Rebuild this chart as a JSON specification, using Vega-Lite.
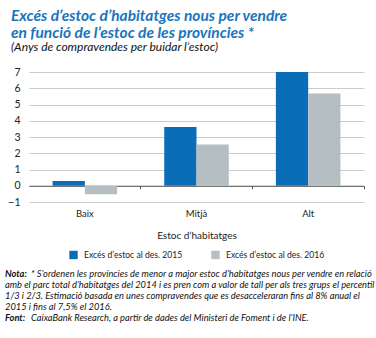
{
  "$schema": "https://vega.github.io/schema/vega-lite/v6.json",
  "padding": {"left": 5, "top": 8, "right": 2, "bottom": 2},
  "background": "white",
  "title": {
    "text": ["Excés d’estoc d’habitatges nous per vendre", "en funció de l’estoc de les províncies *"],
    "subtitle": "(Anys de compravendes per buidar l’estoc)",
    "anchor": "start",
    "frame": "group",
    "dx": -18,
    "font": "Lato",
    "fontSize": 15.5,
    "fontStyle": "italic",
    "fontWeight": "bold",
    "color": "#1a75bc",
    "lineHeight": 17,
    "subtitleFont": "Lato",
    "subtitleFontSize": 12,
    "subtitleFontStyle": "italic",
    "subtitleColor": "#111111",
    "subtitlePadding": 1,
    "offset": 14
  },
  "datasets": {
    "bars": [
      {"cat": "Baix", "serie": "Excés d’estoc al des. 2015", "value": 0.3},
      {"cat": "Baix", "serie": "Excés d’estoc al des. 2016", "value": -0.53},
      {"cat": "Mitjà", "serie": "Excés d’estoc al des. 2015", "value": 3.62},
      {"cat": "Mitjà", "serie": "Excés d’estoc al des. 2016", "value": 2.54},
      {"cat": "Alt", "serie": "Excés d’estoc al des. 2015", "value": 7.0},
      {"cat": "Alt", "serie": "Excés d’estoc al des. 2016", "value": 5.67}
    ],
    "notes": [
      {"line": 1, "kind": "bold", "text": "Nota:"},
      {"line": 1, "kind": "rest", "text": "* S’ordenen les províncies de menor a major estoc d’habitatges nous per vendre en relació"},
      {"line": 2, "kind": "plain", "text": "amb el parc total d’habitatges del 2014 i es pren com a valor de tall per als tres grups el percentil"},
      {"line": 3, "kind": "plain", "text": "1/3 i 2/3. Estimació basada en unes compravendes que es desacceleraran  fins al 8% anual el"},
      {"line": 4, "kind": "plain", "text": "2015 i fins al 7,5% el 2016."},
      {"line": 5, "kind": "bold", "text": "Font:"},
      {"line": 5, "kind": "rest", "text": "CaixaBank Research, a partir de dades del Ministeri de Foment i de l’INE."}
    ]
  },
  "bounds": "flush",
  "spacing": 66,
  "resolve": {"legend": {"color": "independent"}},
  "vconcat": [
    {
      "width": 335,
      "height": 130,
      "data": {"name": "bars"},
      "mark": {"type": "bar"},
      "encoding": {
        "x": {
          "field": "cat",
          "type": "nominal",
          "sort": ["Baix", "Mitjà", "Alt"],
          "scale": {"paddingInner": 0, "paddingOuter": 0},
          "axis": {
            "title": "Estoc d’habitatges",
            "offset": -16.25,
            "labelAngle": 0,
            "bandPosition": 1,
            "ticks": true,
            "tickSize": 3,
            "tickColor": "#555555",
            "domainColor": "#555555",
            "domainWidth": 1,
            "labelPadding": 20,
            "labelFont": "Lato",
            "labelFontSize": 9.5,
            "labelColor": "#222222",
            "titleFont": "Lato",
            "titleFontSize": 10,
            "titleFontWeight": "normal",
            "titleColor": "#222222",
            "titlePadding": 12,
            "grid": false
          }
        },
        "xOffset": {
          "field": "serie",
          "type": "nominal",
          "scale": {"paddingInner": 0, "paddingOuter": 0.73}
        },
        "y": {
          "field": "value",
          "type": "quantitative",
          "scale": {"domain": [-1, 7], "nice": false},
          "axis": {
            "title": null,
            "values": [-1, 0, 1, 2, 3, 4, 5, 6, 7],
            "domain": false,
            "ticks": false,
            "grid": true,
            "gridColor": "#cccccc",
            "gridWidth": 1,
            "labelPadding": 9,
            "labelFont": "Lato",
            "labelFontSize": 10.5,
            "labelColor": "#222222"
          }
        },
        "color": {
          "field": "serie",
          "type": "nominal",
          "scale": {"range": ["#0a6db7", "#b4bec3"]},
          "legend": {
            "title": null,
            "orient": "bottom",
            "direction": "horizontal",
            "symbolType": "square",
            "symbolSize": 70,
            "symbolStrokeWidth": 0,
            "labelFont": "Lato",
            "labelFontSize": 8.6,
            "labelColor": "#222222",
            "labelOffset": 6,
            "columnPadding": 28,
            "offset": 9
          }
        }
      }
    },
    {
      "width": 370,
      "height": {"step": 11},
      "data": {"name": "notes"},
      "encoding": {
        "y": {"field": "line", "type": "ordinal", "axis": null},
        "x": {"datum": 0, "type": "quantitative", "scale": {"domain": [0, 1]}, "axis": null}
      },
      "layer": [
        {
          "transform": [{"filter": "datum.kind === 'bold'"}],
          "mark": {"type": "text", "align": "left", "baseline": "middle", "dx": -24, "font": "Liberation Sans Narrow, Lato", "fontSize": 9.3, "fontStyle": "italic", "fontWeight": "bold", "color": "#111111"},
          "encoding": {"text": {"field": "text"}}
        },
        {
          "transform": [{"filter": "datum.kind === 'rest'"}],
          "mark": {"type": "text", "align": "left", "baseline": "middle", "dx": 2, "font": "Liberation Sans Narrow, Lato", "fontSize": 9.3, "fontStyle": "italic", "color": "#111111"},
          "encoding": {"text": {"field": "text"}}
        },
        {
          "transform": [{"filter": "datum.kind === 'plain'"}],
          "mark": {"type": "text", "align": "left", "baseline": "middle", "dx": -24, "font": "Liberation Sans Narrow, Lato", "fontSize": 9.3, "fontStyle": "italic", "color": "#111111"},
          "encoding": {"text": {"field": "text"}}
        }
      ]
    }
  ],
  "config": {
    "view": {"stroke": null},
    "legend": {"layout": {"bottom": {"anchor": "middle"}}}
  }
}
